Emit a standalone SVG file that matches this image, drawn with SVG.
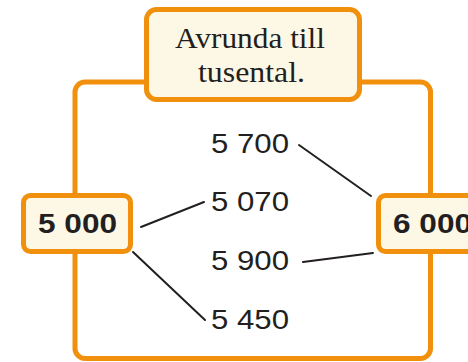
<svg xmlns="http://www.w3.org/2000/svg" width="468" height="362" viewBox="0 0 468 362">
  <style>
    .frame { fill: none; stroke: #f0900c; stroke-width: 5; }
    .box { fill: #fdf8e6; stroke: #f0900c; stroke-width: 5; }
    .title { font-family: "Liberation Serif", "Times New Roman", serif; font-size: 30px; fill: #231f20; text-anchor: start; }
    .num { font-family: "Liberation Sans", Arial, sans-serif; font-size: 28px; fill: #231f20; }
    .bold { font-family: "Liberation Sans", Arial, sans-serif; font-size: 28px; font-weight: bold; fill: #231f20; }
    .conn { stroke: #231f20; stroke-width: 2; stroke-linecap: round; fill: none; }
  </style>
  <rect width="468" height="362" fill="#ffffff"/>
  <g id="frame">
    <rect class="frame" x="75" y="82" width="355.5" height="276.5" rx="10"/>
  </g>
  <g id="connectors">
    <line class="conn" x1="299" y1="145" x2="371" y2="196"/>
    <line class="conn" x1="141" y1="227" x2="204" y2="202"/>
    <line class="conn" x1="303" y1="262" x2="373" y2="253"/>
    <line class="conn" x1="133" y1="252" x2="205" y2="320"/>
  </g>
  <g id="title">
    <rect class="box" x="146.5" y="9.5" width="213" height="90" rx="10"/>
    <text class="title" x="175" y="48" textLength="150" lengthAdjust="spacingAndGlyphs">Avrunda till</text>
    <text class="title" x="198" y="82" textLength="107" lengthAdjust="spacingAndGlyphs">tusental.</text>
  </g>
  <g id="n5000">
    <rect class="box" x="23.5" y="195.5" width="107" height="56" rx="7"/>
    <text class="bold" x="38" y="233" textLength="79" lengthAdjust="spacingAndGlyphs">5 000</text>
  </g>
  <g id="n6000">
    <rect class="box" x="378.5" y="195.5" width="120" height="56" rx="7"/>
    <text class="bold" x="393" y="233" textLength="79" lengthAdjust="spacingAndGlyphs">6 000</text>
  </g>
  <g id="n5700">
    <text class="num" x="211" y="153" textLength="78" lengthAdjust="spacingAndGlyphs">5 700</text>
  </g>
  <g id="n5070">
    <text class="num" x="211" y="211" textLength="78" lengthAdjust="spacingAndGlyphs">5 070</text>
  </g>
  <g id="n5900">
    <text class="num" x="211" y="270" textLength="78" lengthAdjust="spacingAndGlyphs">5 900</text>
  </g>
  <g id="n5450">
    <text class="num" x="211" y="329" textLength="78" lengthAdjust="spacingAndGlyphs">5 450</text>
  </g>
</svg>
